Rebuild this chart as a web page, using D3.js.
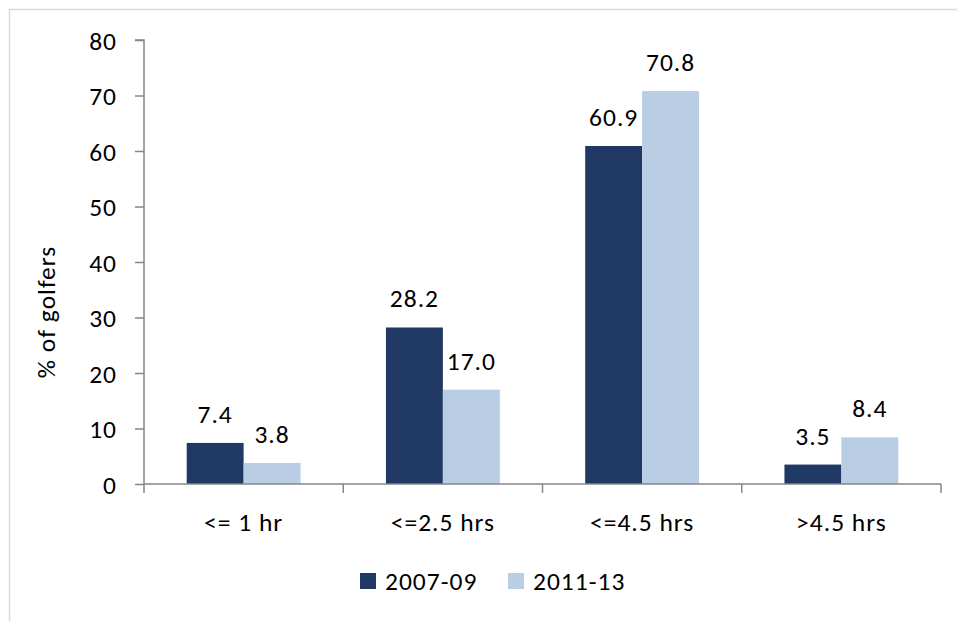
<!DOCTYPE html>
<html>
<head>
<meta charset="utf-8">
<script src="https://cdn.jsdelivr.net/npm/d3@7"></script>
<style>
  html, body { margin: 0; padding: 0; background: #fff; }
  svg text { font-family: Carlito, Calibri, Lato, "Open Sans", sans-serif; fill: #000; letter-spacing: 1px; }
</style>
</head>
<body>
<svg id="chart" width="957" height="621"></svg>
<script>
// Time spent per round, share of golfers by period
const categories = ["<= 1 hr", "<=2.5 hrs", "<=4.5 hrs", ">4.5 hrs"];
const seriesNames = ["2007-09", "2011-13"];
const values2007 = [7.4, 28.2, 60.9, 3.5];
const values2011 = [3.8, 17.0, 70.8, 8.4];
const yTicks = [0, 10, 20, 30, 40, 50, 60, 70, 80];
const colors = ["#203864", "#B9CDE5"];

const series = [values2007, values2011];
const svg = d3.select("#chart");
const fontSize = 25.5;

// outer chart frame
svg.append("rect")
  .attr("x", 9.5).attr("y", 9.5)
  .attr("width", 1000).attr("height", 1000)
  .attr("fill", "none").attr("stroke", "#D9D9D9").attr("stroke-width", 1.5);

const plot = { left: 144, right: 941, top: 40, bottom: 484 };

const x = d3.scaleBand().domain(categories).range([plot.left, plot.right]).paddingInner(0).paddingOuter(0);
const inner = d3.scaleBand().domain(d3.range(series.length)).range([0, x.bandwidth()]).paddingOuter(0.75).paddingInner(0);
const y = d3.scaleLinear().domain([0, 80]).range([plot.bottom, plot.top]);

// bars
series.forEach((vals, si) => {
  svg.append("g").selectAll("rect").data(vals).join("rect")
    .attr("x", (d, i) => x(categories[i]) + inner(si))
    .attr("y", d => y(d))
    .attr("width", inner.bandwidth())
    .attr("height", d => y(0) - y(d))
    .attr("fill", colors[si]);

  svg.append("g").selectAll("text").data(vals).join("text")
    .attr("x", (d, i) => x(categories[i]) + inner(si) + inner.bandwidth() / 2)
    .attr("y", d => y(d) - 20)
    .attr("text-anchor", "middle")
    .attr("font-size", fontSize)
    .text(d => d.toFixed(1));
});

// y axis
const yAxis = d3.axisLeft(y).tickValues(yTicks).tickSize(9).tickPadding(18);
const gy = svg.append("g").attr("transform", `translate(${plot.left},0)`).call(yAxis);
gy.selectAll("path, line").attr("stroke", "#868686").attr("stroke-width", 1.5);
gy.select(".domain").attr("d", `M-9,${plot.top}H0V${plot.bottom}`);
gy.selectAll("text").attr("font-size", fontSize).attr("font-family", null).attr("dy", "0.36em");

// x axis with boundary ticks
const gx = svg.append("g").attr("transform", `translate(0,${plot.bottom})`);
gx.append("line").attr("x1", plot.left).attr("x2", plot.right).attr("stroke", "#868686").attr("stroke-width", 1.5);
const bounds = categories.map(c => x(c)).concat([plot.right]);
gx.selectAll("line.tick").data(bounds).join("line")
  .attr("class", "tick")
  .attr("x1", d => d).attr("x2", d => d).attr("y1", 0).attr("y2", 9)
  .attr("stroke", "#868686").attr("stroke-width", 1.5);
gx.selectAll("text").data(categories).join("text")
  .attr("x", d => x(d) + x.bandwidth() / 2)
  .attr("y", 47)
  .attr("text-anchor", "middle")
  .attr("font-size", fontSize)
  .text(d => d);

// y axis title
svg.append("text")
  .attr("transform", `translate(55,312) rotate(-90)`)
  .attr("text-anchor", "middle")
  .attr("font-size", fontSize)
  .text("% of golfers");

// legend
const legend = svg.append("g").attr("transform", "translate(360,581)");
const legendX = [0, 148];
seriesNames.forEach((name, i) => {
  legend.append("rect").attr("x", legendX[i]).attr("y", -8).attr("width", 16).attr("height", 16).attr("fill", colors[i]);
  legend.append("text").attr("x", legendX[i] + 25).attr("y", 0).attr("dy", "0.36em")
    .attr("font-size", fontSize).text(name);
});
</script>
</body>
</html>
